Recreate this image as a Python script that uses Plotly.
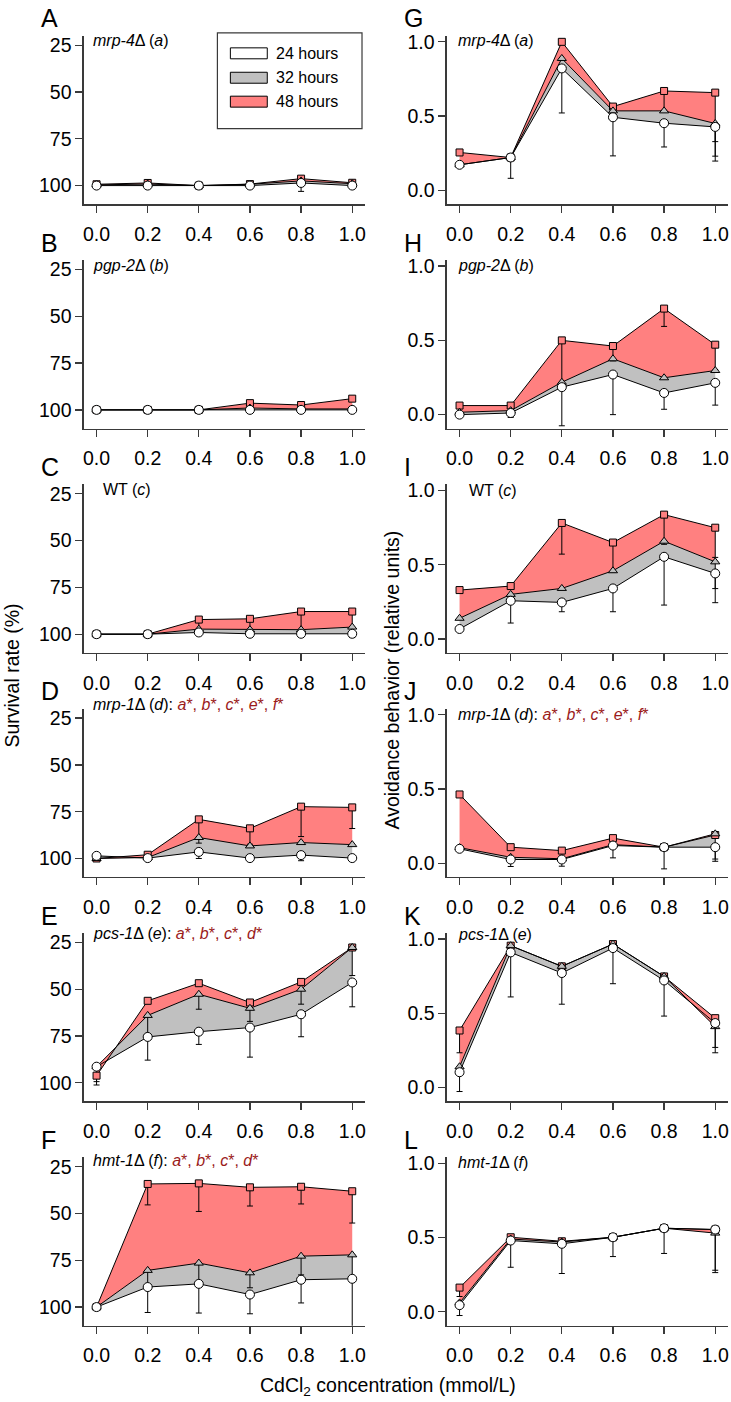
import plotly.graph_objects as go

# ---------------- data ----------------
conc = [0.0, 0.2, 0.4, 0.6, 0.8, 1.0]
conc_labels = ["0.0", "0.2", "0.4", "0.6", "0.8", "1.0"]
series_names = ["24 hours", "32 hours", "48 hours"]
survival_ticks = [25, 50, 75, 100]
avoid_ticks = [0.0, 0.5, 1.0]
avoid_tick_labels = ["0.0", "0.5", "1.0"]
letters_left = ["A", "B", "C", "D", "E", "F"]
letters_right = ["G", "H", "I", "J", "K", "L"]

RED_TXT = "#9b1b1b"
def red(s):
    return '<span style="color:%s">%s</span>' % (RED_TXT, s)

labels_left = [
    "<i>mrp-4</i>Δ (<i>a</i>)",
    "<i>pgp-2</i>Δ (<i>b</i>)",
    "WT (<i>c</i>)",
    "<i>mrp-1</i>Δ (<i>d</i>): " + red("<i>a</i>*, <i>b</i>*, <i>c</i>*, <i>e</i>*, <i>f</i>*"),
    "<i>pcs-1</i>Δ (<i>e</i>): " + red("<i>a</i>*, <i>b</i>*, <i>c</i>*, <i>d</i>*"),
    "<i>hmt-1</i>Δ (<i>f</i>): " + red("<i>a</i>*, <i>b</i>*, <i>c</i>*, <i>d</i>*"),
]
labels_right = [
    "<i>mrp-4</i>Δ (<i>a</i>)",
    "<i>pgp-2</i>Δ (<i>b</i>)",
    "WT (<i>c</i>)",
    "<i>mrp-1</i>Δ (<i>d</i>): " + red("<i>a</i>*, <i>b</i>*, <i>c</i>*, <i>e</i>*, <i>f</i>*"),
    "<i>pcs-1</i>Δ (<i>e</i>)",
    "<i>hmt-1</i>Δ (<i>f</i>)",
]

# Survival rate (%) -- 24 h / 32 h / 48 h, with error bars
surv_mrp4_24 = [100, 100, 100, 100, 98.6, 100]
surv_mrp4_32 = [99.6, 99.2, 100, 99.3, 97.5, 99.0]
surv_mrp4_48 = [99.3, 98.6, 100, 99.2, 96.3, 98.5]
surv_mrp4_24_err = [0, 0, 0, 0, 4.5, 0]
surv_mrp4_32_err = [0, 0, 0, 0, 0, 0]
surv_mrp4_48_err = [0, 0, 0, 0, 2.0, 0]

surv_pgp2_24 = [100, 100, 100, 100, 100, 100]
surv_pgp2_32 = [100, 100, 100, 99.0, 99.5, 99.5]
surv_pgp2_48 = [100, 100, 100, 96.4, 97.4, 94.0]
surv_pgp2_24_err = [0, 0, 0, 0, 0, 0]
surv_pgp2_32_err = [0, 0, 0, 0, 0, 0]
surv_pgp2_48_err = [0, 0, 0, 0, 0, 0]

surv_wt_24 = [100, 100, 99.1, 99.8, 99.8, 99.8]
surv_wt_32 = [100, 100, 97.3, 97.6, 97.6, 96.2]
surv_wt_48 = [100, 100, 92.2, 91.8, 87.9, 87.9]
surv_wt_24_err = [0, 0, 0, 0, 0, 2.0]
surv_wt_32_err = [0, 0, 0, 0, 0, 0]
surv_wt_48_err = [0, 0, 5.0, 5.5, 9.5, 8.5]

surv_mrp1_24 = [98.6, 99.8, 96.5, 99.8, 98.2, 99.8]
surv_mrp1_32 = [100, 99.5, 88.8, 93.3, 91.5, 92.6]
surv_mrp1_48 = [100, 98.0, 79.1, 83.9, 72.3, 72.7]
surv_mrp1_24_err = [0, 0, 3.5, 0, 3.0, 0]
surv_mrp1_32_err = [0, 0, 3.0, 0, 0, 0]
surv_mrp1_48_err = [0, 0, 9.5, 8.5, 16.0, 11.3]

surv_pcs1_24 = [91.4, 75.5, 72.7, 70.5, 63.4, 46.4]
surv_pcs1_32 = [91.4, 64.0, 52.7, 60.2, 50.0, 27.7]
surv_pcs1_48 = [96.2, 56.2, 46.8, 57.1, 46.1, 27.7]
surv_pcs1_24_err = [8.0, 12.4, 6.8, 15.8, 12.0, 13.0]
surv_pcs1_32_err = [0, 10.0, 8.0, 7.0, 8.0, 15.0]
surv_pcs1_48_err = [5.0, 0, 0, 0, 0, 0]

surv_hmt1_24 = [100, 89.3, 87.6, 93.3, 85.4, 84.9]
surv_hmt1_32 = [100, 80.4, 76.5, 81.7, 72.8, 72.1]
surv_hmt1_48 = [100, 34.2, 33.9, 36.0, 35.7, 38.1]
surv_hmt1_24_err = [0, 13.6, 15.6, 10.3, 12.4, 26.0]
surv_hmt1_32_err = [0, 8.0, 10.0, 8.0, 10.0, 14.0]
surv_hmt1_48_err = [0, 11.2, 15.0, 10.0, 9.2, 17.0]

# Avoidance behavior (relative units)
avoid_mrp4_24 = [0.172, 0.221, 0.821, 0.492, 0.452, 0.427]
avoid_mrp4_32 = [0.172, 0.221, 0.888, 0.535, 0.535, 0.450]
avoid_mrp4_48 = [0.255, 0.221, 1.000, 0.564, 0.669, 0.658]
avoid_mrp4_24_err = [0, 0.14, 0.30, 0.26, 0.16, 0.23]
avoid_mrp4_32_err = [0, 0, 0, 0, 0, 0.22]
avoid_mrp4_48_err = [0, 0, 0, 0, 0.13, 0.33]

avoid_pgp2_24 = [0.0, 0.011, 0.185, 0.270, 0.146, 0.214]
avoid_pgp2_32 = [0.016, 0.027, 0.218, 0.376, 0.248, 0.297]
avoid_pgp2_48 = [0.061, 0.061, 0.500, 0.462, 0.714, 0.471]
avoid_pgp2_24_err = [0, 0.03, 0.26, 0.27, 0.11, 0.15]
avoid_pgp2_32_err = [0, 0, 0, 0, 0, 0]
avoid_pgp2_48_err = [0, 0, 0.30, 0.10, 0.12, 0.17]

avoid_wt_24 = [0.067, 0.257, 0.246, 0.340, 0.553, 0.441]
avoid_wt_32 = [0.139, 0.300, 0.340, 0.459, 0.658, 0.519]
avoid_wt_48 = [0.329, 0.356, 0.781, 0.649, 0.837, 0.749]
avoid_wt_24_err = [0, 0.15, 0.063, 0.157, 0.325, 0.197]
avoid_wt_32_err = [0, 0, 0, 0, 0, 0.18]
avoid_wt_48_err = [0, 0, 0.21, 0.20, 0.20, 0.20]

avoid_mrp1_24 = [0.097, 0.025, 0.025, 0.119, 0.108, 0.108]
avoid_mrp1_32 = [0.105, 0.040, 0.030, 0.125, 0.108, 0.198]
avoid_mrp1_48 = [0.463, 0.108, 0.085, 0.169, 0.108, 0.190]
avoid_mrp1_24_err = [0, 0.047, 0.045, 0.083, 0.146, 0.095]
avoid_mrp1_32_err = [0, 0, 0, 0, 0, 0.17]
avoid_mrp1_48_err = [0, 0, 0, 0, 0, 0]

avoid_pcs1_24 = [0.103, 0.910, 0.771, 0.939, 0.721, 0.434]
avoid_pcs1_32 = [0.140, 0.955, 0.816, 0.966, 0.748, 0.410]
avoid_pcs1_48 = [0.384, 0.955, 0.816, 0.966, 0.748, 0.467]
avoid_pcs1_24_err = [0.13, 0.30, 0.21, 0.24, 0.24, 0.20]
avoid_pcs1_32_err = [0, 0, 0, 0, 0, 0.14]
avoid_pcs1_48_err = [0.15, 0, 0, 0, 0, 0]

avoid_hmt1_24 = [0.045, 0.480, 0.458, 0.502, 0.563, 0.554]
avoid_hmt1_32 = [0.060, 0.490, 0.470, 0.502, 0.563, 0.530]
avoid_hmt1_48 = [0.163, 0.502, 0.475, 0.502, 0.563, 0.554]
avoid_hmt1_24_err = [0.07, 0.18, 0.20, 0.13, 0.17, 0.29]
avoid_hmt1_32_err = [0, 0, 0, 0, 0, 0.25]
avoid_hmt1_48_err = [0.06, 0, 0, 0, 0, 0]

left_panels = [
    ([surv_mrp4_24, surv_mrp4_32, surv_mrp4_48], [surv_mrp4_24_err, surv_mrp4_32_err, surv_mrp4_48_err]),
    ([surv_pgp2_24, surv_pgp2_32, surv_pgp2_48], [surv_pgp2_24_err, surv_pgp2_32_err, surv_pgp2_48_err]),
    ([surv_wt_24, surv_wt_32, surv_wt_48], [surv_wt_24_err, surv_wt_32_err, surv_wt_48_err]),
    ([surv_mrp1_24, surv_mrp1_32, surv_mrp1_48], [surv_mrp1_24_err, surv_mrp1_32_err, surv_mrp1_48_err]),
    ([surv_pcs1_24, surv_pcs1_32, surv_pcs1_48], [surv_pcs1_24_err, surv_pcs1_32_err, surv_pcs1_48_err]),
    ([surv_hmt1_24, surv_hmt1_32, surv_hmt1_48], [surv_hmt1_24_err, surv_hmt1_32_err, surv_hmt1_48_err]),
]
right_panels = [
    ([avoid_mrp4_24, avoid_mrp4_32, avoid_mrp4_48], [avoid_mrp4_24_err, avoid_mrp4_32_err, avoid_mrp4_48_err]),
    ([avoid_pgp2_24, avoid_pgp2_32, avoid_pgp2_48], [avoid_pgp2_24_err, avoid_pgp2_32_err, avoid_pgp2_48_err]),
    ([avoid_wt_24, avoid_wt_32, avoid_wt_48], [avoid_wt_24_err, avoid_wt_32_err, avoid_wt_48_err]),
    ([avoid_mrp1_24, avoid_mrp1_32, avoid_mrp1_48], [avoid_mrp1_24_err, avoid_mrp1_32_err, avoid_mrp1_48_err]),
    ([avoid_pcs1_24, avoid_pcs1_32, avoid_pcs1_48], [avoid_pcs1_24_err, avoid_pcs1_32_err, avoid_pcs1_48_err]),
    ([avoid_hmt1_24, avoid_hmt1_32, avoid_hmt1_48], [avoid_hmt1_24_err, avoid_hmt1_32_err, avoid_hmt1_48_err]),
]

# ---------------- styling / layout ----------------
W, H = 731, 1402
FONT = "Arial, Liberation Sans, sans-serif"
AX = "#3a3a3a"
FILL_COLORS = ["#ffffff", "#c0c0c0", "#ff8080"]
MARKER_SYMBOLS = ["circle", "triangle-up", "square"]
MARKER_SIZES = [9, 8, 7]
TICK_SIZE = 19.5

COL_X = [(83, 365), (447, 729)]
ROW_TOP0, ROW_BOT0, PITCH = 31, 200, 225.1

label_y_left = [35.5, 261, 486, 702, 932, 1160]
label_y_right = [36, 261, 487, 712, 933, 1162]


def px_x(p):
    return p / W


def px_y(p):
    return 1 - p / H


fig = go.Figure()
layout_axes = {}
annotations = []
shapes = []


def add_panel(k, ys, errs, left):
    xa = "x" if k == 1 else "x%d" % k
    ya = "y" if k == 1 else "y%d" % k
    common = dict(xaxis=xa, yaxis=ya, showlegend=False, hoverinfo="skip")
    # filled bands: 24h base, 32h band, 48h band
    fig.add_trace(go.Scatter(x=conc, y=ys[0], mode="lines",
                             line=dict(width=0, color="rgba(0,0,0,0)"), **common))
    for s in (1, 2):
        fig.add_trace(go.Scatter(x=conc, y=ys[s], mode="lines", fill="tonexty",
                                 fillcolor=FILL_COLORS[s],
                                 line=dict(width=0, color="rgba(0,0,0,0)"), **common))
    # one-sided error bars (drawn visually downward)
    for s in (2, 1, 0):
        idx = [i for i, e in enumerate(errs[s]) if e > 0]
        if not idx:
            continue
        ex = [conc[i] for i in idx]
        ey = [ys[s][i] for i in idx]
        ee = [errs[s][i] for i in idx]
        zeros = [0] * len(idx)
        err = dict(type="data", symmetric=False,
                   array=ee if left else zeros,
                   arrayminus=zeros if left else ee,
                   color="black", thickness=1, width=3)
        fig.add_trace(go.Scatter(x=ex, y=ey, mode="markers",
                                 marker=dict(size=1, color="rgba(0,0,0,0)"),
                                 error_y=err, **common))
    # lines + markers
    for s in (2, 1, 0):
        fig.add_trace(go.Scatter(
            x=conc, y=ys[s], mode="lines+markers", name=series_names[s],
            line=dict(color="black", width=1),
            marker=dict(symbol=MARKER_SYMBOLS[s], size=MARKER_SIZES[s],
                        color=FILL_COLORS[s], line=dict(color="black", width=1)),
            cliponaxis=False, **common))

    axis_common = dict(showline=True, linecolor=AX, linewidth=1.3, ticks="outside",
                       ticklen=7, tickwidth=1.3, tickcolor=AX, showgrid=False,
                       zeroline=False, fixedrange=True,
                       tickfont=dict(size=TICK_SIZE, color="black", family=FONT))
    r = (k - 1) // 2
    c = (k - 1) % 2
    top = ROW_TOP0 + PITCH * r
    bot = ROW_BOT0 + PITCH * r
    xkey = "xaxis" if k == 1 else "xaxis%d" % k
    ykey = "yaxis" if k == 1 else "yaxis%d" % k
    layout_axes[xkey] = dict(domain=[px_x(COL_X[c][0]), px_x(COL_X[c][1])],
                             range=[-0.05, 1.05], tickvals=conc, ticktext=conc_labels,
                             anchor=ya, ticklabelstandoff=5, **axis_common)
    if left:
        layout_axes[ykey] = dict(domain=[px_y(bot), px_y(top)], range=[110, 20],
                                 tickvals=survival_ticks, anchor=xa, **axis_common)
    else:
        layout_axes[ykey] = dict(domain=[px_y(bot), px_y(top)], range=[-0.094, 1.04],
                                 tickvals=avoid_ticks, ticktext=avoid_tick_labels,
                                 anchor=xa, **axis_common)


for r in range(6):
    add_panel(2 * r + 1, left_panels[r][0], left_panels[r][1], True)
    add_panel(2 * r + 2, right_panels[r][0], right_panels[r][1], False)
    # panel letters
    ly = 13.5 + PITCH * r
    annotations.append(dict(text=letters_left[r], x=px_x(38), y=px_y(ly), xref="paper", yref="paper",
                            xanchor="left", yanchor="middle", showarrow=False,
                            font=dict(size=25, color="black", family=FONT)))
    annotations.append(dict(text=letters_right[r], x=px_x(402), y=px_y(ly), xref="paper", yref="paper",
                            xanchor="left", yanchor="middle", showarrow=False,
                            font=dict(size=25, color="black", family=FONT)))
    # genotype labels
    lx_left = 100 if r == 2 else 90
    lx_right = 467 if r == 2 else 456
    annotations.append(dict(text=labels_left[r], x=px_x(lx_left), y=px_y(label_y_left[r]),
                            xref="paper", yref="paper", xanchor="left", yanchor="middle",
                            showarrow=False, font=dict(size=16, color="black", family=FONT)))
    annotations.append(dict(text=labels_right[r], x=px_x(lx_right), y=px_y(label_y_right[r]),
                            xref="paper", yref="paper", xanchor="left", yanchor="middle",
                            showarrow=False, font=dict(size=16, color="black", family=FONT)))

# axis titles
annotations.append(dict(text="Survival rate (%)", x=px_x(11), y=px_y(673), xref="paper", yref="paper",
                        textangle=-90, showarrow=False, xanchor="center", yanchor="middle",
                        font=dict(size=19.5, color="black", family=FONT)))
annotations.append(dict(text="Avoidance behavior (relative units)", x=px_x(392), y=px_y(677),
                        xref="paper", yref="paper", textangle=-90, showarrow=False,
                        xanchor="center", yanchor="middle",
                        font=dict(size=19.5, color="black", family=FONT)))
annotations.append(dict(text="CdCl<sub>2</sub> concentration (mmol/L)", x=px_x(388), y=px_y(1386),
                        xref="paper", yref="paper", showarrow=False, xanchor="center",
                        yanchor="middle", font=dict(size=19.5, color="black", family=FONT)))

# legend box (drawn in panel A)
shapes.append(dict(type="rect", xref="paper", yref="paper", x0=px_x(217), x1=px_x(362),
                   y0=px_y(124), y1=px_y(28), line=dict(color=AX, width=1.2),
                   fillcolor="white", layer="above"))
legend_centers = [48.5, 73, 97]
for s in range(3):
    cy = legend_centers[s]
    shapes.append(dict(type="rect", xref="paper", yref="paper", x0=px_x(230), x1=px_x(267),
                       y0=px_y(cy + 5.5), y1=px_y(cy - 5.5),
                       line=dict(color="black", width=1), fillcolor=FILL_COLORS[s], layer="above"))
    annotations.append(dict(text=series_names[s], x=px_x(274), y=px_y(cy), xref="paper", yref="paper",
                            xanchor="left", yanchor="middle", showarrow=False,
                            font=dict(size=16, color="black", family=FONT)))

fig.update_layout(
    width=W, height=H, autosize=False,
    margin=dict(l=0, r=0, t=0, b=0),
    paper_bgcolor="white", plot_bgcolor="white",
    showlegend=False,
    annotations=annotations, shapes=shapes,
    font=dict(family=FONT, color="black"),
    **layout_axes,
)

# the page body has a default 8px margin; remove it so the figure fills the window exactly
fig.write_html("out.html",
               config={"displayModeBar": False, "staticPlot": True},
               post_script="document.body.style.margin='0';document.body.style.overflow='hidden';")
